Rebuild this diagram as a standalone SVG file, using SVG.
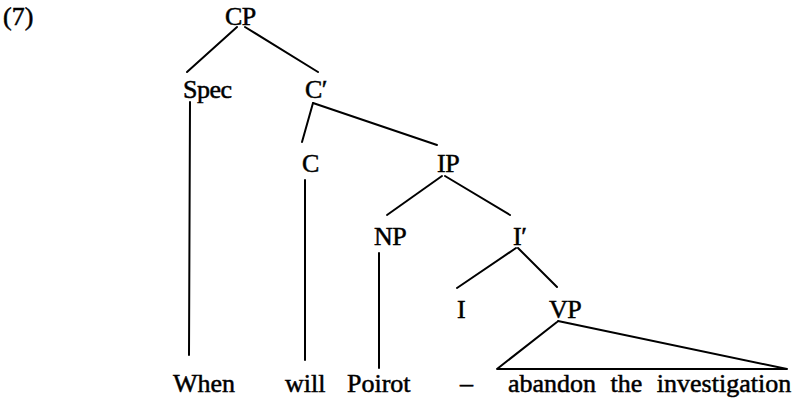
<svg xmlns="http://www.w3.org/2000/svg" width="798" height="398" viewBox="0 0 798 398">
  <style>
    text { font-family: "Liberation Serif", "Times New Roman", serif; font-size: 26px; fill: #000; stroke: #000; stroke-width: 0.5px; }
    .lbl { letter-spacing: -0.5px; }
    .edge { stroke: #000; stroke-width: 2; fill: none; stroke-linecap: round; stroke-linejoin: round; }
  </style>
  <rect width="798" height="398" fill="#fff"/>
  <text id="ex-num" x="3" y="25">(7)</text>

  <!-- tree edges -->
  <g id="connectors">
    <line class="edge" x1="237" y1="27" x2="187" y2="72"/>
    <line class="edge" x1="245" y1="27" x2="318" y2="72"/>
    <line class="edge" x1="190" y1="102" x2="189" y2="355"/>
    <line class="edge" x1="313" y1="103" x2="302" y2="142"/>
    <line class="edge" x1="313" y1="103" x2="437" y2="145"/>
    <line class="edge" x1="305" y1="180" x2="305" y2="360"/>
    <line class="edge" x1="442" y1="176" x2="387" y2="215"/>
    <line class="edge" x1="445" y1="176" x2="510" y2="215"/>
    <line class="edge" x1="379" y1="253" x2="379" y2="368"/>
    <line class="edge" x1="516" y1="248" x2="457" y2="288"/>
    <line class="edge" x1="518" y1="248" x2="557" y2="287"/>
    <path class="edge" d="M557,322 L497,369 L787,369 L558,321"/>
  </g>

  <!-- category nodes -->
  <g id="node-CP"><text class="lbl" x="225" y="25">CP</text></g>
  <g id="node-Spec"><text class="lbl" x="183" y="98">Spec</text></g>
  <g id="node-Cbar"><text class="lbl" x="305" y="98">C′</text></g>
  <g id="node-C"><text class="lbl" x="302" y="172">C</text></g>
  <g id="node-IP"><text class="lbl" x="437" y="172">IP</text></g>
  <g id="node-NP"><text class="lbl" x="374" y="245">NP</text></g>
  <g id="node-Ibar"><text class="lbl" x="513" y="245">I′</text></g>
  <g id="node-I"><text class="lbl" x="457" y="318">I</text></g>
  <g id="node-VP"><text class="lbl" x="549" y="318">VP</text></g>

  <!-- terminal string -->
  <g id="node-When"><text x="173" y="392">When</text></g>
  <g id="node-will"><text x="285" y="392">will</text></g>
  <g id="node-Poirot"><text x="347" y="392">Poirot</text></g>
  <g id="node-trace"><text x="460" y="392">–</text></g>
  <g id="node-VPstring"><text x="508" y="392" word-spacing="8">abandon the investigation</text></g>
</svg>
